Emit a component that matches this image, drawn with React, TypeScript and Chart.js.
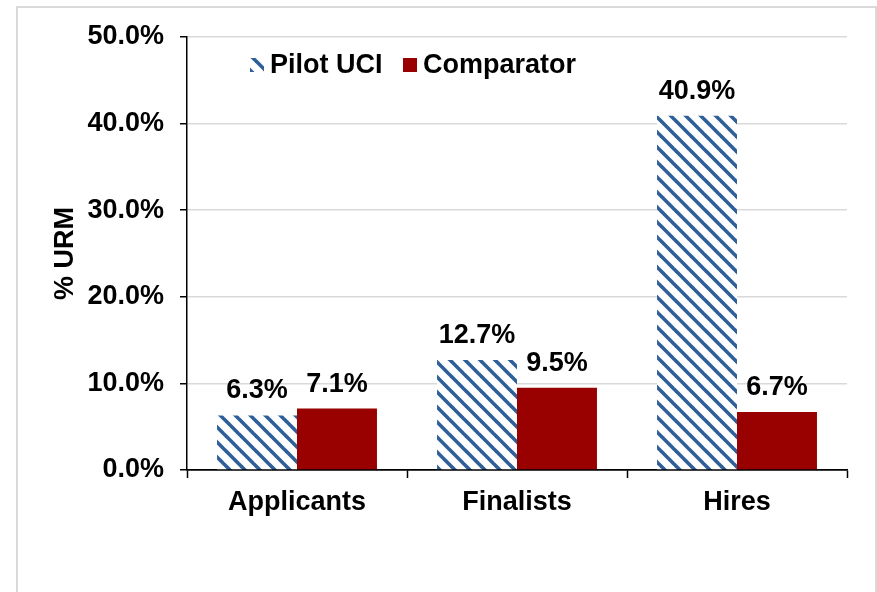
import React, { useEffect, useRef } from "react";
import { Chart, registerables } from "chart.js";

Chart.register(...registerables);

const categories = ["Applicants", "Finalists", "Hires"];
const pilotLabel = "Pilot UCI";
const comparatorLabel = "Comparator";
const pilotValues = [6.3, 12.7, 40.9];
const comparatorValues = [7.1, 9.5, 6.7];
const yTicks = [0, 10, 20, 30, 40, 50];
const yTitle = "% URM";

const FONT = '"Liberation Sans", Arial, sans-serif';
const FS = 27;
const BLUE = "#2f5f98";
const RED = "#990000";

function makePattern(ctx: CanvasRenderingContext2D): CanvasPattern | string {
  const size = 15;
  const c = document.createElement("canvas");
  c.width = size;
  c.height = size;
  const p = c.getContext("2d");
  if (!p) return BLUE;
  p.fillStyle = "#ffffff";
  p.fillRect(0, 0, size, size);
  p.strokeStyle = BLUE;
  p.lineWidth = 3.6;
  for (const off of [-size, 0, size]) {
    p.beginPath();
    p.moveTo(off - 2, -2);
    p.lineTo(off + size + 2, size + 2);
    p.stroke();
  }
  return ctx.createPattern(c, "repeat") || BLUE;
}

const dataLabelPlugin = {
  id: "dataLabels",
  afterDatasetsDraw(chart: any) {
    const ctx = chart.ctx;
    ctx.save();
    ctx.font = `bold ${FS}px ${FONT}`;
    ctx.fillStyle = "#000";
    ctx.textAlign = "center";
    ctx.textBaseline = "alphabetic";
    chart.data.datasets.forEach((ds: any, i: number) => {
      const meta = chart.getDatasetMeta(i);
      meta.data.forEach((el: any, j: number) => {
        ctx.fillText(ds.data[j].toFixed(1) + "%", el.x, el.y - 17);
      });
    });
    ctx.restore();
  },
};

const legendPlugin = {
  id: "customLegend",
  afterDraw(chart: any) {
    const ctx = chart.ctx;
    const ds = chart.data.datasets;
    const items = [
      { x: 250, label: ds[0].label, fill: ds[0].backgroundColor },
      { x: 403, label: ds[1].label, fill: ds[1].backgroundColor },
    ];
    ctx.save();
    ctx.font = `bold ${FS}px ${FONT}`;
    ctx.textAlign = "left";
    ctx.textBaseline = "alphabetic";
    items.forEach((it) => {
      ctx.fillStyle = it.fill;
      ctx.fillRect(it.x, 58, 14, 14);
      ctx.fillStyle = "#000";
      ctx.fillText(it.label, it.x + 20, 73);
    });
    ctx.restore();
  },
};

export default function App() {
  const ref = useRef<HTMLCanvasElement | null>(null);

  useEffect(() => {
    const canvas = ref.current;
    if (!canvas) return;
    const ctx = canvas.getContext("2d");
    if (!ctx) return;
    const pattern = makePattern(ctx);

    const chart = new Chart(canvas, {
      type: "bar",
      data: {
        labels: categories,
        datasets: [
          {
            label: pilotLabel,
            data: pilotValues,
            backgroundColor: pattern as any,
            borderWidth: 0,
          },
          {
            label: comparatorLabel,
            data: comparatorValues,
            backgroundColor: RED,
            borderWidth: 0,
          },
        ],
      },
      options: {
        animation: false,
        responsive: true,
        maintainAspectRatio: false,
        categoryPercentage: 0.727,
        barPercentage: 1.0,
        layout: { padding: { top: 37, right: 30, left: 0, bottom: 0 } },
        plugins: {
          legend: { display: false },
          tooltip: { enabled: false },
        },
        scales: {
          x: {
            grid: {
              offset: true,
              drawOnChartArea: false,
              drawTicks: true,
              tickLength: 8,
              tickColor: "#000",
              tickWidth: 1.5,
            },
            border: { color: "#000", width: 1.5 },
            ticks: {
              color: "#000",
              font: { family: FONT, size: FS, weight: "bold" },
              padding: 8,
            },
            afterFit(scale: any) {
              scale.height = 122;
            },
          },
          y: {
            min: 0,
            max: 50,
            afterBuildTicks(scale: any) {
              scale.ticks = yTicks.map((v) => ({ value: v }));
            },
            grid: {
              color: (c: any) => (c.tick && c.tick.value === 0 ? "#000" : "#d9d9d9"),
              lineWidth: 1.5,
              tickLength: 7,
              tickColor: "#000",
              tickWidth: 1.5,
            },
            border: { color: "#000", width: 1.5 },
            ticks: {
              color: "#000",
              font: { family: FONT, size: FS, weight: "bold" },
              padding: 16,
              callback: (v: any) => Number(v).toFixed(1) + "%",
            },
            title: {
              display: true,
              text: yTitle,
              color: "#000",
              font: { family: FONT, size: FS, weight: "bold" },
              padding: { top: 49, bottom: 0 },
            },
            afterFit(scale: any) {
              scale.width = 187;
            },
          },
        },
      },
      plugins: [dataLabelPlugin, legendPlugin],
    });

    return () => chart.destroy();
  }, []);

  return (
    <div
      style={{
        position: "fixed",
        left: 0,
        top: 0,
        width: 877,
        height: 592,
        overflow: "hidden",
        background: "#fff",
      }}
    >
      <div
        style={{
          position: "absolute",
          left: 16,
          top: 6,
          width: 861,
          height: 640,
          border: "2px solid #d9d9d9",
          boxSizing: "border-box",
        }}
      />
      <div style={{ position: "absolute", left: 0, top: 0, width: 877, height: 592 }}>
        <canvas ref={ref} />
      </div>
    </div>
  );
}
